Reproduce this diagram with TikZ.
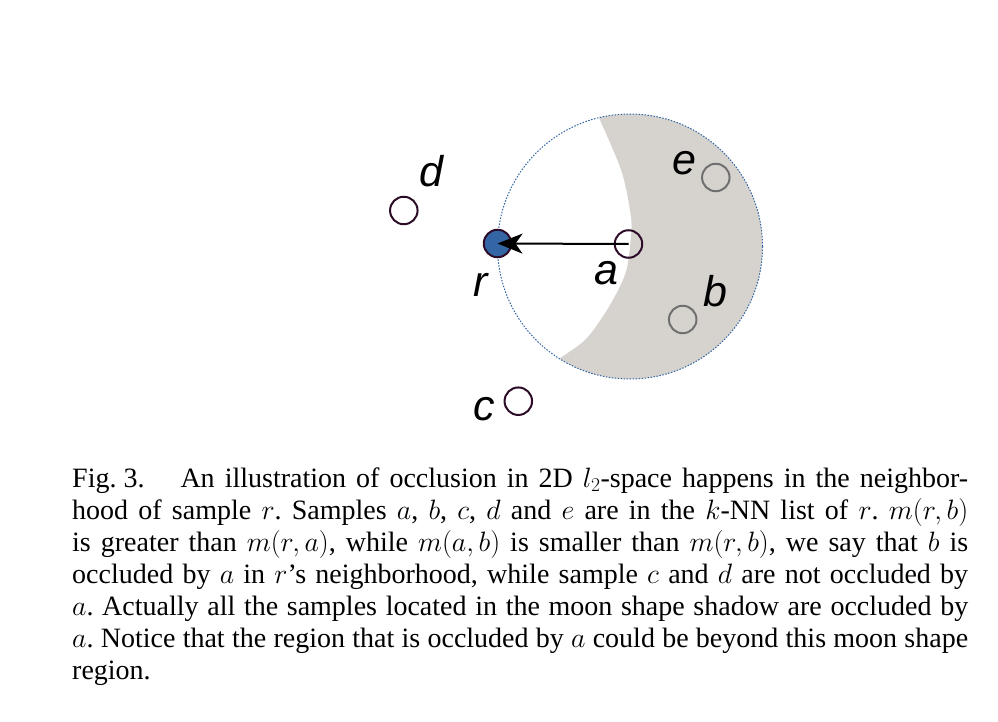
\RequirePackage{fix-cm}
\documentclass[tikz,border=0pt]{standalone}
\usepackage{fontspec}
\setmainfont{Liberation Serif}
\newfontfamily\lblfont{Liberation Sans}
\usetikzlibrary{arrows.meta}
\definecolor{moongray}{RGB}{214,211,207}
\definecolor{dotblue}{RGB}{52,101,164}
\definecolor{rblue}{RGB}{52,101,164}
\definecolor{ptdark}{RGB}{45,12,40}
\definecolor{ptgray}{RGB}{112,112,112}
\newcommand{\capspacing}{\frenchspacing\spaceskip=4.5pt plus 30pt minus 1pt\relax}
\begin{document}
\begin{tikzpicture}[x=1pt,y=-1pt,
  pt/.style={circle, draw=ptdark, line width=2pt, minimum size=27.5pt, inner sep=0pt},
  ptg/.style={pt, draw=ptgray},
  lbl/.style={font=\lblfont\itshape\fontsize{43}{43}\selectfont, inner sep=0pt, anchor=base},
  capline/.style={anchor=north west, inner sep=0pt, text width=896pt, align=left,
    font=\fontsize{28}{32}\selectfont}
  ]
\useasboundingbox (0,0) rectangle (998,722);
\coordinate (o) at (630,246.5);
% moon-shaped shadow
\begin{scope}
  \clip (o) circle (132.5);
  \fill[moongray] plot[smooth] coordinates {(588,92) (599.3,118.3) (621.7,171.7) (630.7,215) (631,236) (626,271.7) (610,305) (586.7,338.3) (560,358.3) (532,378)}
    -- (800,400) -- (800,90) -- cycle;
\end{scope}
% neighbourhood circle
\draw[dotblue, line width=1pt, dash pattern=on 1.5pt off 1.5pt] (o) circle (132.5);
% samples
\node[pt, fill=rblue] (r) at (497.5,243.5) {};
\node[pt] (a) at (628.5,244) {};
\node[pt] (d) at (403.8,210.5) {};
\node[pt] (c) at (518.3,401.2) {};
\node[ptg] (e) at (715.8,177.5) {};
\node[ptg] (b) at (682.7,319.5) {};
% arrow
\draw[line width=2pt, -{Stealth[length=25pt,width=20pt,inset=7pt]}] (a.center) -- (r.center);
% labels
\node[lbl] (ld) at (431.5,186) {d};
\node[lbl] (lr) at (481,296) {r};
\node[lbl] (la) at (606,284.3) {a};
\node[lbl] (le) at (684.5,175) {e};
\node[lbl] (lb) at (715,306.5) {b};
\node[lbl] (lc) at (484,420) {c};
% caption
\node[capline] (cap) at (72,464.6) {\capspacing\strut\makebox[896pt][s]{\mbox{Fig.\hskip7pt 3.}\hspace{36pt}An illustration of occlusion in 2D $l_2$-space happens in the neighbor-}\\
\makebox[896pt][s]{hood of sample $r$. Samples $a$, $b$, $c$, $d$ and $e$ are in the $k$-NN list of $r$. $m(r,b)$}\\
\makebox[896pt][s]{is greater than $m(r,a)$, while $m(a,b)$ is smaller than $m(r,b)$, we say that $b$ is}\\
\makebox[896pt][s]{occluded by $a$ in $r$'s neighborhood, while sample $c$ and $d$ are not occluded by}\\
\makebox[896pt][s]{$a$. Actually all the samples located in the moon shape shadow are occluded by}\\
\makebox[896pt][s]{$a$. Notice that the region that is occluded by $a$ could be beyond this moon shape}\\
region.};
\end{tikzpicture}
\end{document}
